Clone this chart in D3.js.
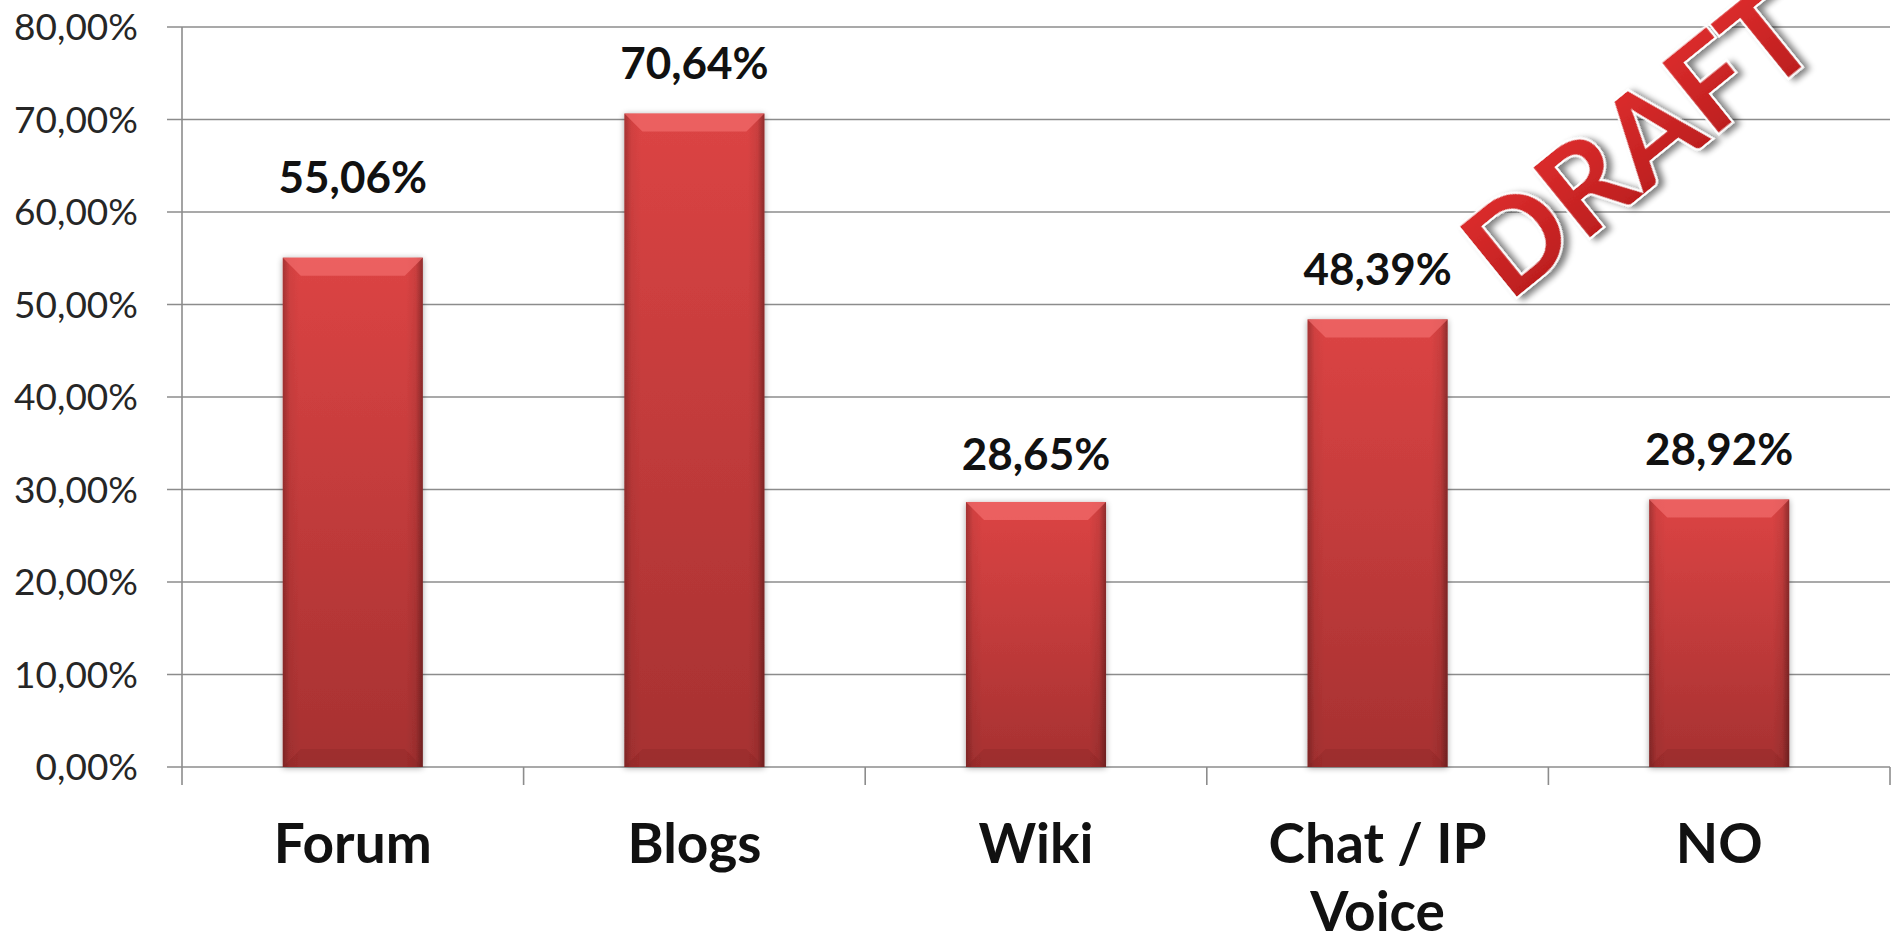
<!DOCTYPE html>
<html><head><meta charset="utf-8">
<script src="https://cdn.jsdelivr.net/npm/d3@7"></script>
<style>html,body{margin:0;padding:0;background:#fff;overflow:hidden}</style>
</head><body>
<svg id="chart" width="1893" height="941"></svg>
<script>
const categories = ["Forum", "Blogs", "Wiki", "Chat / IP Voice", "NO"];
const values = [55.06, 70.64, 28.65, 48.39, 28.92];
const valueLabels = ["55,06%", "70,64%", "28,65%", "48,39%", "28,92%"];
const yTicks = [0, 10, 20, 30, 40, 50, 60, 70, 80];
const yTickLabels = ["0,00%", "10,00%", "20,00%", "30,00%", "40,00%", "50,00%", "60,00%", "70,00%", "80,00%"];
const categoryLines = [["Forum"], ["Blogs"], ["Wiki"], ["Chat / IP", "Voice"], ["NO"]];

(function() {
const svg = d3.select("#chart");
const pLeft = 182, pRight = 1890, pTop = 27, pBottom = 767;
const FONT = "Lato, 'Open Sans', sans-serif";
// gap between bar top and its value label baseline (layout, as placed in the original)
const labelGap = [65, 35, 32, 34, 34];

const x = d3.scaleBand().domain(categories).range([pLeft, pRight]).paddingInner(0.59).paddingOuter(0.295);
const xEdges = d3.scaleLinear().domain([0, categories.length]).range([pLeft, pRight]);
const y = d3.scaleLinear().domain([0, 80]).range([pBottom, pTop]);

const defs = svg.append("defs");
const vg = defs.append("linearGradient").attr("id", "barV").attr("x1", 0).attr("y1", 0).attr("x2", 0).attr("y2", 1);
vg.append("stop").attr("offset", "0%").attr("stop-color", "#dc4444");
vg.append("stop").attr("offset", "100%").attr("stop-color", "#a63131");
const hg = defs.append("linearGradient").attr("id", "barH").attr("x1", 0).attr("y1", 0).attr("x2", 1).attr("y2", 0);
hg.append("stop").attr("offset", "0%").attr("stop-color", "#000").attr("stop-opacity", 0.25);
hg.append("stop").attr("offset", "5%").attr("stop-color", "#000").attr("stop-opacity", 0.05);
hg.append("stop").attr("offset", "12%").attr("stop-color", "#000").attr("stop-opacity", 0);
hg.append("stop").attr("offset", "88%").attr("stop-color", "#000").attr("stop-opacity", 0);
hg.append("stop").attr("offset", "95%").attr("stop-color", "#000").attr("stop-opacity", 0.08);
hg.append("stop").attr("offset", "100%").attr("stop-color", "#000").attr("stop-opacity", 0.35);
const sh = defs.append("filter").attr("id", "barShadow").attr("x", "-20%").attr("y", "-10%").attr("width", "140%").attr("height", "120%");
sh.append("feGaussianBlur").attr("in", "SourceAlpha").attr("stdDeviation", 3).attr("result", "b");
sh.append("feOffset").attr("in", "b").attr("dx", 0).attr("dy", 1).attr("result", "o");
sh.append("feComponentTransfer").attr("in", "o").attr("result", "o2").append("feFuncA").attr("type", "linear").attr("slope", 0.35);
const m1 = sh.append("feMerge"); m1.append("feMergeNode").attr("in", "o2"); m1.append("feMergeNode").attr("in", "SourceGraphic");

const dg = defs.append("linearGradient").attr("id", "draftG").attr("x1", 0).attr("y1", 0).attr("x2", 0).attr("y2", 1);
dg.append("stop").attr("offset", "0%").attr("stop-color", "#e43030");
dg.append("stop").attr("offset", "100%").attr("stop-color", "#b51b1b");
const ds = defs.append("filter").attr("id", "draftShadow").attr("x", "-20%").attr("y", "-40%").attr("width", "140%").attr("height", "180%");
ds.append("feGaussianBlur").attr("in", "SourceAlpha").attr("stdDeviation", 3).attr("result", "b");
ds.append("feOffset").attr("in", "b").attr("dx", 4).attr("dy", 5).attr("result", "o");
ds.append("feComponentTransfer").attr("in", "o").attr("result", "o2").append("feFuncA").attr("type", "linear").attr("slope", 0.5);
const m2 = ds.append("feMerge"); m2.append("feMergeNode").attr("in", "o2"); m2.append("feMergeNode").attr("in", "SourceGraphic");

svg.append("g").selectAll("line").data(yTicks).join("line")
  .attr("x1", pLeft - 15).attr("x2", pRight)
  .attr("y1", d => y(d)).attr("y2", d => y(d))
  .attr("stroke", "#8c8c8c").attr("stroke-width", 1.6);

svg.append("line").attr("x1", pLeft).attr("x2", pLeft).attr("y1", pTop).attr("y2", pBottom + 18)
  .attr("stroke", "#8c8c8c").attr("stroke-width", 1.6);

svg.append("g").selectAll("line").data(d3.range(1, categories.length + 1)).join("line")
  .attr("x1", d => xEdges(d)).attr("x2", d => xEdges(d))
  .attr("y1", pBottom).attr("y2", pBottom + 18)
  .attr("stroke", "#8c8c8c").attr("stroke-width", 1.6);

svg.append("g").selectAll("text").data(yTicks).join("text")
  .attr("x", 138).attr("y", d => y(d)).attr("dy", "0.36em")
  .attr("text-anchor", "end").attr("font-family", FONT).attr("font-size", 37)
  .attr("fill", "#262626").text((d, i) => yTickLabels[i]);

const bw = x.bandwidth();
const bev = 18;
const bars = svg.append("g").selectAll("g").data(categories).join("g").attr("filter", "url(#barShadow)");
bars.append("rect")
  .attr("x", d => x(d)).attr("y", (d, i) => y(values[i]))
  .attr("width", bw).attr("height", (d, i) => pBottom - y(values[i]))
  .attr("fill", "url(#barV)");
bars.append("rect")
  .attr("x", d => x(d)).attr("y", (d, i) => y(values[i]))
  .attr("width", bw).attr("height", (d, i) => pBottom - y(values[i]))
  .attr("fill", "url(#barH)");
bars.append("path")
  .attr("d", (d, i) => {
    const x0 = x(d), x1 = x(d) + bw, yt = y(values[i]);
    return `M${x0},${yt}L${x1},${yt}L${x1 - bev},${yt + bev}L${x0 + bev},${yt + bev}Z`;
  })
  .attr("fill", "#f26c6c").attr("opacity", 0.7);
bars.append("path")
  .attr("d", (d, i) => {
    const x0 = x(d), x1 = x(d) + bw;
    return `M${x0},${pBottom}L${x1},${pBottom}L${x1 - bev},${pBottom - bev}L${x0 + bev},${pBottom - bev}Z`;
  })
  .attr("fill", "#7a2020").attr("opacity", 0.22);

svg.append("g").selectAll("text").data(categories).join("text")
  .attr("x", d => x(d) + bw / 2).attr("y", (d, i) => y(values[i]) - labelGap[i])
  .attr("text-anchor", "middle").attr("font-family", FONT).attr("font-weight", "bold")
  .attr("font-size", 44).attr("fill", "#111").text((d, i) => valueLabels[i]);

const cl = svg.append("g").selectAll("text").data(categories).join("text")
  .attr("x", d => x(d) + bw / 2).attr("y", 863)
  .attr("text-anchor", "middle").attr("font-family", FONT).attr("font-weight", "bold")
  .attr("font-size", 55).attr("fill", "#111");
cl.selectAll("tspan").data((d, i) => categoryLines[i]).join("tspan")
  .attr("x", function() { return this.parentNode.getAttribute("x"); })
  .attr("dy", (d, j) => j === 0 ? 0 : 68).text(d => d);

svg.append("text")
  .attr("transform", "translate(1509,303) rotate(-39)")
  .attr("text-anchor", "start")
  .attr("font-family", FONT).attr("font-weight", "bold").attr("font-size", 124)
  .attr("fill", "url(#draftG)").attr("stroke", "#fff").attr("stroke-width", 4)
  .attr("paint-order", "stroke").attr("filter", "url(#draftShadow)")
  .text("DRAFT");
})();
</script>
</body></html>
